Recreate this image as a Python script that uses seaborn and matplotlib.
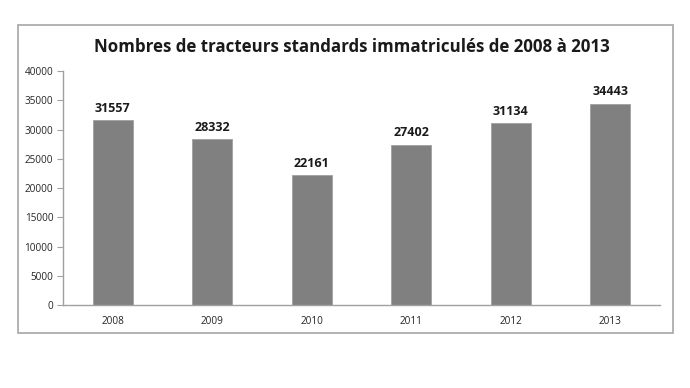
import matplotlib
matplotlib.use("Agg")
import matplotlib.pyplot as plt
import seaborn as sns
import pandas as pd
import numpy as np
from matplotlib.patches import Rectangle

years = ["2008", "2009", "2010", "2011", "2012", "2013"]
tracteurs = [31557, 28332, 22161, 27402, 31134, 34443]

df = pd.DataFrame({"annee": years, "nombre": tracteurs})

sns.set_style("white")
plt.rcParams['font.family'] = ['Open Sans', 'DejaVu Sans']

fig = plt.figure(figsize=(6.9, 3.88), dpi=100)
# outer chart frame
fig.patches.append(Rectangle((0.026, 0.142), 0.949, 0.794, transform=fig.transFigure,
                             fill=False, edgecolor="#a6a6a6", linewidth=1.2))
ax = fig.add_axes([0.0913, 0.2139, 0.8652, 0.6031])

sns.barplot(data=df, x="annee", y="nombre", color="#808080", width=0.4,
            saturation=1, edgecolor="#a0a0a0", linewidth=0.6, ax=ax)

for i, v in enumerate(tracteurs):
    ax.text(i, v + 900, str(v), ha="center", va="bottom",
            fontsize=9, fontweight="bold", color="#1a1a1a")

ax.set_ylim(0, 40000)
ax.set_yticks(np.arange(0, 40001, 5000))
ax.set_xlim(-0.5, 5.5)
ax.set_xticks(range(len(years)))
ax.set_xticklabels(years)
ax.set_xticks(np.arange(-0.5, 6, 1), minor=True)
ax.tick_params(axis="x", which="major", length=0, labelsize=7.2, pad=8)
ax.tick_params(axis="x", which="minor", length=4, color="#a0a0a0", direction="out")
ax.tick_params(axis="y", length=4, color="#a0a0a0", direction="out", labelsize=7.2, pad=3, left=True)
ax.set_xlabel("")
ax.set_ylabel("")
for s in ["top", "right"]:
    ax.spines[s].set_visible(False)
for s in ["left", "bottom"]:
    ax.spines[s].set_color("#a0a0a0")
    ax.spines[s].set_linewidth(1.0)

fig.text(0.51, 0.878, "Nombres de tracteurs standards immatriculés de 2008 à 2013",
         ha="center", va="center", fontsize=12.2, fontweight="bold", color="#1a1a1a")

fig.savefig("out.png", dpi=100)
